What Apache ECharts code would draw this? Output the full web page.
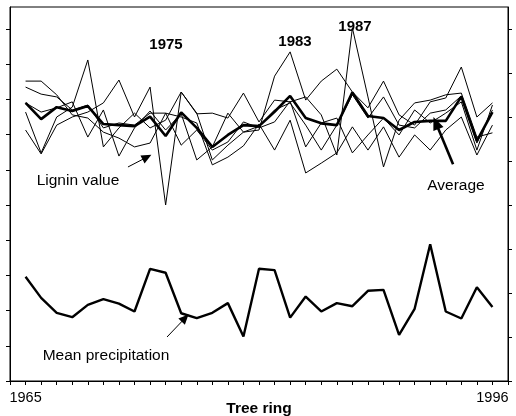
<!DOCTYPE html>
<html>
<head>
<meta charset="utf-8">
<script src="https://cdn.jsdelivr.net/npm/echarts@6/dist/echarts.min.js"></script>
<style>
  html, body { margin: 0; padding: 0; background: #fff; }
  #chart { width: 516px; height: 416px; }
</style>
</head>
<body>
<div id="chart"></div>
<script>
// x positions 1..31 are the tree rings, 0 and 32 are the empty ends of the axis
const xTickLabels = { 1: "1965", 31: "1996" };

// lignin values of the five trees (left axis)
const tree1 = [7.64, 6.48, 7.50, 7.78, 9.12, 6.65, 7.19, 7.61, 7.19, 7.41, 8.21, 7.61, 6.28, 6.70, 7.07, 7.24, 7.70, 7.90, 7.27, 6.56, 7.27, 8.13, 7.47, 8.07, 7.27, 7.19, 7.61, 7.70, 8.10, 6.76, 7.70];
const tree2 = [8.52, 8.52, 8.13, 7.56, 7.47, 7.07, 6.90, 6.65, 6.76, 7.61, 7.50, 7.33, 6.14, 6.36, 6.68, 7.30, 6.56, 7.41, 5.91, 6.19, 6.48, 7.22, 6.56, 7.22, 6.36, 6.99, 6.56, 7.13, 7.50, 6.42, 7.27];
const tree3 = [8.35, 8.15, 8.07, 7.70, 7.84, 7.19, 7.33, 7.27, 7.61, 7.61, 6.70, 7.13, 6.56, 6.79, 7.36, 7.19, 7.36, 7.95, 6.65, 7.33, 7.47, 6.48, 6.99, 7.47, 6.99, 7.70, 7.33, 7.61, 7.93, 6.56, 7.84];
const tree4 = [7.13, 6.45, 7.27, 7.50, 7.64, 7.90, 8.55, 7.50, 8.35, 5.00, 8.21, 7.59, 7.61, 7.47, 8.18, 7.36, 7.98, 7.93, 8.07, 7.56, 6.42, 10.03, 8.07, 6.08, 7.41, 7.90, 7.98, 8.13, 8.18, 6.93, 7.05];
const tree5 = [7.90, 7.64, 7.76, 7.93, 6.93, 7.70, 6.39, 7.19, 7.67, 7.13, 7.59, 6.28, 6.65, 7.61, 7.07, 7.13, 8.66, 9.35, 7.98, 8.52, 8.86, 8.21, 7.76, 8.52, 7.56, 7.27, 7.93, 8.04, 8.92, 7.50, 7.90];
const average = [7.90, 7.44, 7.78, 7.67, 7.81, 7.30, 7.27, 7.24, 7.51, 6.96, 7.63, 7.19, 6.65, 6.99, 7.27, 7.24, 7.65, 8.10, 7.47, 7.32, 7.27, 8.20, 7.53, 7.47, 7.13, 7.36, 7.39, 7.39, 8.08, 6.82, 7.64];

// mean precipitation (right axis)
const precipitation = [2.37, 1.89, 1.55, 1.45, 1.73, 1.86, 1.76, 1.58, 2.55, 2.46, 1.54, 1.43, 1.55, 1.77, 1.01, 2.55, 2.52, 1.44, 1.92, 1.58, 1.77, 1.70, 2.05, 2.07, 1.05, 1.64, 3.11, 1.58, 1.42, 2.13, 1.68];

const leftTicks = [0, 1, 2, 3, 4, 5, 6, 7, 8, 9, 10];
const rightTicks = [0, 1, 2, 3, 4, 5, 6, 7, 8];

const FONT = "'Liberation Sans', Arial, sans-serif";
const toPoints = (vals) => vals.map((v, i) => [i + 1, v]);

const thinLine = (vals) => ({
  type: "line",
  yAxisIndex: 0,
  data: toPoints(vals),
  showSymbol: false,
  symbol: "none",
  silent: true,
  lineStyle: { color: "#000", width: 1 },
});

const arrow = (from, to, width, size) => ({
  silent: true,
  animation: false,
  symbol: ["none", "triangle"],
  symbolSize: size,
  label: { show: false },
  lineStyle: { color: "#000", width: width, type: "solid" },
  data: [[{ coord: from }, { coord: to }]],
});

const chart = echarts.init(document.getElementById("chart"), null, { renderer: "canvas" });

const axisCommon = {
  axisLine: { show: true, lineStyle: { color: "#000", width: 1 } },
  axisTick: { show: true, inside: false, length: 4, lineStyle: { color: "#000" } },
  splitLine: { show: false },
};

chart.setOption({
  animation: false,
  backgroundColor: "#fff",
  textStyle: { fontFamily: FONT },
  grid: {
    left: 10,
    right: 8,
    top: 7,
    bottom: 35,
    containLabel: false,
    outerBoundsMode: "none",
    show: true,
    borderColor: "#000",
    borderWidth: 1,
    backgroundColor: "transparent",
  },
  xAxis: {
    type: "value",
    min: 0,
    max: 32,
    interval: 1,
    ...axisCommon,
    axisLabel: {
      show: true,
      margin: 9,
      color: "#000",
      fontSize: 14.5,
      fontFamily: FONT,
      formatter: (v) => xTickLabels[v] || "",
    },
    name: "Tree ring",
    nameLocation: "middle",
    nameGap: 20,
    nameMoveOverlap: false,
    nameTextStyle: { color: "#000", fontSize: 15.5, fontWeight: "bold", fontFamily: FONT },
  },
  yAxis: [
    {
      type: "value",
      position: "left",
      min: 0,
      max: 10.625,
      ...axisCommon,
      axisTick: { ...axisCommon.axisTick, customValues: leftTicks },
      axisLabel: { show: false },
    },
    {
      type: "value",
      position: "right",
      min: 0,
      max: 8.5,
      ...axisCommon,
      axisTick: { ...axisCommon.axisTick, customValues: rightTicks },
      axisLabel: { show: false },
    },
  ],
  series: [
    thinLine(tree1),
    thinLine(tree2),
    thinLine(tree3),
    thinLine(tree4),
    thinLine(tree5),
    {
      type: "line",
      yAxisIndex: 0,
      data: toPoints(average),
      showSymbol: false,
      symbol: "none",
      silent: true,
      lineStyle: { color: "#000", width: 2.6 },
      markLine: arrow([7.58, 6.08], [8.8, 6.36], 1, [9, 10]),
    },
    {
      type: "line",
      yAxisIndex: 0,
      data: [],
      silent: true,
      markLine: arrow([28.47, 6.16], [27.37, 7.33], 2.6, [11, 13]),
    },
    {
      type: "line",
      yAxisIndex: 1,
      data: toPoints(precipitation),
      showSymbol: false,
      symbol: "none",
      silent: true,
      lineStyle: { color: "#000", width: 2.4 },
      markLine: arrow([10.09, 1.0], [11.25, 1.43], 1, [9, 10]),
    },
  ],
  graphic: [
    { type: "text", x: 166, y: 45, style: { text: "1975", font: "bold 15px " + FONT, fill: "#000", align: "center", verticalAlign: "middle" } },
    { type: "text", x: 295, y: 42, style: { text: "1983", font: "bold 15px " + FONT, fill: "#000", align: "center", verticalAlign: "middle" } },
    { type: "text", x: 355, y: 27, style: { text: "1987", font: "bold 15px " + FONT, fill: "#000", align: "center", verticalAlign: "middle" } },
    { type: "text", x: 78, y: 181, style: { text: "Lignin value", font: "15.5px " + FONT, fill: "#000", align: "center", verticalAlign: "middle" } },
    { type: "text", x: 456, y: 186, style: { text: "Average", font: "15.5px " + FONT, fill: "#000", align: "center", verticalAlign: "middle" } },
    { type: "text", x: 106, y: 356, style: { text: "Mean precipitation", font: "15.5px " + FONT, fill: "#000", align: "center", verticalAlign: "middle" } },
  ],
});
</script>
</body>
</html>
